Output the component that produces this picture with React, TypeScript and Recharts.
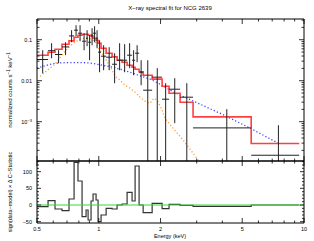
import React from 'react';
import { ComposedChart, Line, Scatter, XAxis, YAxis, ErrorBar } from 'recharts';

// spectral bins (keV edges) and counts
const binEdges = [0.5, 0.566, 0.612, 0.662, 0.716, 0.758, 0.792, 0.829, 0.867, 0.887, 0.917, 0.938, 0.97, 0.992, 1.026, 1.086, 1.161, 1.228, 1.299, 1.374, 1.453, 1.503, 1.572, 1.645, 1.82, 2.035, 2.2, 2.49, 2.88, 5.53, 9.48];
const rate = [0.0329, 0.0539, 0.0435, 0.0667, 0.1238, 0.1706, 0.144, 0.0919, 0.1088, 0.0869, 0.1288, 0.144, 0.1088, 0.0496, 0.0396, 0.0374, 0.0252, 0.0316, 0.0316, 0.0419, 0.0316, 0.0469, 0.0161, 0.00587, 0.0122, 0.00354, 0.0062, 0.00396, 0.000706, 0.000152];
const rateUp = [0.0554, 0.0822, 0.0554, 0.0869, 0.1706, 0.226, 0.226, 0.144, 0.1706, 0.1288, 0.191, 0.213, 0.1706, 0.0972, 0.0734, 0.0656, 0.0469, 0.0822, 0.0777, 0.0822, 0.0554, 0.0734, 0.0316, 0.0316, 0.0202, 0.00869, 0.0115, 0.00869, 0.00202, 0.000822];
// 0 = error bar runs off the bottom of the plot
const rateDown = [0.0152, 0.0354, 0.0267, 0.0419, 0.0869, 0.1217, 0.0919, 0.0554, 0.0694, 0.0316, 0.0734, 0.0869, 0.062, 0.0161, 0.018, 0.018, 0.00869, 0.018, 0.0161, 0.0202, 0.0136, 0.0283, 0.00777, 0, 0, 0, 0.000919, 0, 0, 0];
const modelRate = [0.0419, 0.0496, 0.0587, 0.0777, 0.0935, 0.115, 0.1288, 0.136, 0.136, 0.1288, 0.1217, 0.1088, 0.0972, 0.0822, 0.062, 0.0469, 0.0381, 0.0316, 0.0283, 0.0239, 0.0213, 0.0191, 0.0166, 0.0136, 0.0109, 0.00734, 0.00496, 0.00299, 0.00131, 0.000294];
const residual = [-5, 13, -12, -17, 18, 128, 72, -35, -15, -45, 12, 33, 15, -50, -30, -10, -12, 0, 3, 38, 12, 117, 0, -23, 5, -11, 2, -1, -4, 0];

// model components
const powE = [0.5, 0.547, 0.612, 0.685, 0.81, 0.906, 1.014, 1.135, 1.27, 1.42, 1.59, 1.78, 1.99, 2.23, 2.49, 2.79, 3.12, 4.04, 5.47, 7.49];
const powRate = [0.0202, 0.0232, 0.0267, 0.0275, 0.0278, 0.027, 0.0245, 0.022, 0.0191, 0.0161, 0.0132, 0.0109, 0.00822, 0.00587, 0.00443, 0.00344, 0.00267, 0.00148, 0.000694, 0.000299];
const apecE = [0.517, 0.547, 0.579, 0.612, 0.648, 0.685, 0.724, 0.765, 0.81, 0.857, 0.906, 0.958, 1.014, 1.073, 1.135, 1.2, 1.27, 1.343, 1.42, 1.503, 1.59, 1.68, 1.78, 1.84, 1.88, 1.95, 2.035, 2.1, 2.3, 2.58, 2.88, 3.05];
const apecRate = [0.0129, 0.0161, 0.0202, 0.0252, 0.0374, 0.0524, 0.0694, 0.0869, 0.1028, 0.1088, 0.1057, 0.0919, 0.0554, 0.0354, 0.0226, 0.0129, 0.0103, 0.00777, 0.00656, 0.00525, 0.00396, 0.00316, 0.00283, 0.00354, 0.00374, 0.00299, 0.0019, 0.00122, 0.000694, 0.000354, 0.000171, 0.000115];

const xTicks = [0.5, 0.6, 0.7, 0.8, 0.9, 1, 2, 3, 4, 5, 6, 7, 8, 9, 10];
const xMajor = [0.5, 1, 2, 5, 10];
const yTicks = [2e-4, 3e-4, 4e-4, 5e-4, 6e-4, 7e-4, 8e-4, 9e-4, 1e-3, 2e-3, 3e-3, 4e-3, 5e-3, 6e-3, 7e-3, 8e-3, 9e-3, 0.01, 0.02, 0.03, 0.04, 0.05, 0.06, 0.07, 0.08, 0.09, 0.1, 0.2, 0.3];
const resTicks = [-50, -40, -30, -20, -10, 0, 10, 20, 30, 40, 50, 60, 70, 80, 90, 100, 110, 120, 130];
const resMajor = [-50, 0, 50, 100];

const Y_MIN = 1.1e-4;
const Y_MAX = 0.32;
const FONT = '"Liberation Sans", Arial, sans-serif';

const last = rate.length - 1;
const points = rate.map((r, i) => {
  const lo = binEdges[i];
  const hi = binEdges[i + 1];
  const c = (lo + hi) / 2;
  const down = rateDown[i] > 0 ? rateDown[i] : Y_MIN;
  return { x: c, y: r, ex: [c - lo, hi - c], ey: [r - down, rateUp[i] - r] };
});
const modelSteps = [...modelRate.map((m, i) => ({ x: binEdges[i], y: m })), { x: binEdges[last + 1], y: modelRate[last] }];
const residSteps = [...residual.map((d, i) => ({ x: binEdges[i], y: d })), { x: binEdges[last + 1], y: residual[last] }];
const powCurve = powE.map((x, i) => ({ x, y: powRate[i] }));
const apecCurve = apecE.map((x, i) => ({ x, y: apecRate[i] }));
const zeroLine = [{ x: 0.5, y: 0 }, { x: 10, y: 0 }];

const isDecade = (v: number) => Math.abs(Math.log10(v) - Math.round(Math.log10(v))) < 1e-6;

const xTick = (side: 'top' | 'bottom', labels: boolean) => (p: any) => {
  const v = p.payload.value;
  const len = xMajor.includes(v) ? 5 : 2.5;
  const dir = side === 'bottom' ? -1 : 1;
  return (
    <g>
      <line x1={p.x} x2={p.x} y1={p.y} y2={p.y + dir * len} stroke="#000" strokeWidth={0.8} />
      {labels && xMajor.includes(v) && (
        <text x={p.x} y={p.y + 8} textAnchor="middle" fontSize={5.5} fontFamily={FONT} fill="#000">{v}</text>
      )}
    </g>
  );
};

const logTick = (side: 'left' | 'right') => (p: any) => {
  const v = p.payload.value;
  const major = isDecade(v);
  const len = major ? 5 : 2.5;
  const dir = side === 'left' ? 1 : -1;
  let label: React.ReactNode = null;
  if (side === 'left' && major) {
    label = v >= 0.01
      ? <text x={p.x - 5} y={p.y + 2} textAnchor="end" fontSize={5.5} fontFamily={FONT} fill="#000">{v}</text>
      : <text x={p.x - 5} y={p.y + 2} textAnchor="end" fontSize={5.5} fontFamily={FONT} fill="#000">10<tspan dy={-2} fontSize={4}>−3</tspan></text>;
  }
  return (
    <g>
      <line x1={p.x} x2={p.x + dir * len} y1={p.y} y2={p.y} stroke="#000" strokeWidth={0.8} />
      {label}
    </g>
  );
};

const resTick = (side: 'left' | 'right') => (p: any) => {
  const v = p.payload.value;
  const major = resMajor.includes(v);
  const len = major ? 4 : 2;
  const dir = side === 'left' ? 1 : -1;
  return (
    <g>
      <line x1={p.x} x2={p.x + dir * len} y1={p.y} y2={p.y} stroke="#000" strokeWidth={0.8} />
      {side === 'left' && major && (
        <text x={p.x - 5} y={p.y + 2} textAnchor="end" fontSize={5.5} fontFamily={FONT} fill="#000">{v < 0 ? `−${-v}` : v}</text>
      )}
    </g>
  );
};

const frame = { stroke: '#000', strokeWidth: 1 };

export default function App() {
  return (
    <div style={{ position: 'absolute', left: 0, top: 0, width: 314, height: 241, background: '#fff' }}>
      <div style={{ position: 'absolute', left: 0, top: 0 }}>
        <ComposedChart width={314} height={170} margin={{ top: 18, right: 9, bottom: 8, left: 36 }}>
          <XAxis dataKey="x" type="number" scale="log" domain={[0.5, 10]} allowDataOverflow ticks={xTicks} interval={0}
            height={1} tickSize={0} tickMargin={0} axisLine={frame} tick={xTick('bottom', false)} />
          <XAxis xAxisId="top" orientation="top" dataKey="x" type="number" scale="log" domain={[0.5, 10]} allowDataOverflow
            ticks={xTicks} interval={0} height={1} tickSize={0} tickMargin={0} axisLine={frame} tick={xTick('top', false)} />
          <YAxis type="number" scale="log" domain={[Y_MIN, Y_MAX]} allowDataOverflow ticks={yTicks} interval={0}
            width={1} tickSize={0} tickMargin={0} axisLine={frame} tick={logTick('left')} />
          <YAxis yAxisId="r" orientation="right" type="number" scale="log" domain={[Y_MIN, Y_MAX]} allowDataOverflow
            ticks={yTicks} interval={0} width={1} tickSize={0} tickMargin={0} axisLine={frame} tick={logTick('right')} />
          <Line data={powCurve} dataKey="y" stroke="#3c3cff" strokeWidth={1.3} strokeDasharray="1.2 2.2" dot={false} isAnimationActive={false} />
          <Line data={apecCurve} dataKey="y" stroke="#ff9a33" strokeWidth={1.3} strokeDasharray="1.2 2.2" dot={false} isAnimationActive={false} />
          <Line data={modelSteps} dataKey="y" type="stepAfter" stroke="#ff4040" strokeWidth={1.6} dot={false} isAnimationActive={false} />
          <Scatter data={points} dataKey="y" shape={() => <g />} isAnimationActive={false}>
            <ErrorBar dataKey="ex" direction="x" width={0} stroke="#222" strokeWidth={1} />
            <ErrorBar dataKey="ey" direction="y" width={0} stroke="#222" strokeWidth={1} />
          </Scatter>
        </ComposedChart>
      </div>
      <div style={{ position: 'absolute', left: 0, top: 150 }}>
        <ComposedChart width={314} height={91} margin={{ top: 10, right: 9, bottom: 17, left: 36 }}>
          <XAxis dataKey="x" type="number" scale="log" domain={[0.5, 10]} allowDataOverflow ticks={xTicks} interval={0}
            height={1} tickSize={0} tickMargin={0} axisLine={frame} tick={xTick('bottom', true)} />
          <XAxis xAxisId="top" orientation="top" dataKey="x" type="number" scale="log" domain={[0.5, 10]} allowDataOverflow
            ticks={xTicks} interval={0} height={1} tickSize={0} tickMargin={0} axisLine={frame} tick={xTick('top', false)} />
          <YAxis type="number" domain={[-54, 132]} allowDataOverflow ticks={resTicks} interval={0}
            width={1} tickSize={0} tickMargin={0} axisLine={frame} tick={resTick('left')} />
          <YAxis yAxisId="r" orientation="right" type="number" domain={[-54, 132]} allowDataOverflow ticks={resTicks}
            interval={0} width={1} tickSize={0} tickMargin={0} axisLine={frame} tick={resTick('right')} />
          <Line data={residSteps} dataKey="y" type="stepAfter" stroke="#333" strokeWidth={1.2} dot={false} isAnimationActive={false} />
          <Line data={zeroLine} dataKey="y" stroke="#33dd33" strokeWidth={1} dot={false} isAnimationActive={false} />
        </ComposedChart>
      </div>
      <svg width={314} height={241} style={{ position: 'absolute', left: 0, top: 0, pointerEvents: 'none' }} fontFamily={FONT}>
        <text x={170} y={10} textAnchor="middle" fontSize={6}>X−ray spectral fit for NCG 2639</text>
        <text transform="translate(12,90) rotate(-90)" textAnchor="middle" fontSize={6}>
          normalized counts s<tspan dy={-2} fontSize={4.5}>−1</tspan><tspan dy={2}> keV</tspan><tspan dy={-2} fontSize={4.5}>−1</tspan>
        </text>
        <text transform="translate(12,192) rotate(-90)" textAnchor="middle" fontSize={5.5}>sign(data−model) × Δ C−Statistic</text>
        <text x={170} y={238} textAnchor="middle" fontSize={5.5}>Energy (keV)</text>
      </svg>
    </div>
  );
}
